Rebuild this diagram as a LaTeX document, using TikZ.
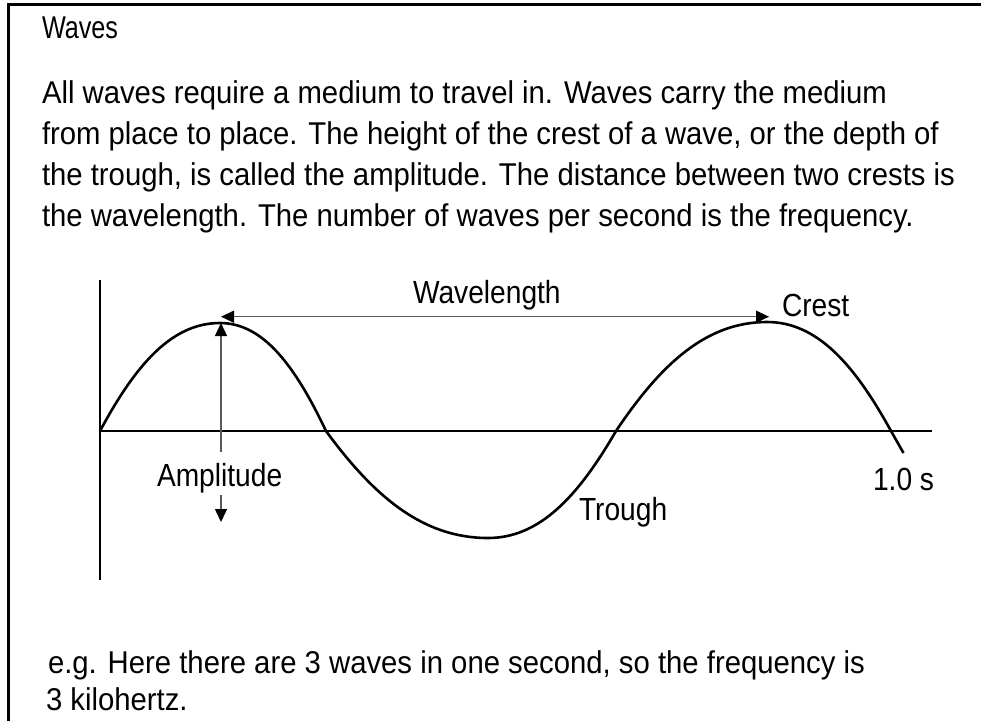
\documentclass[tikz,border=0pt]{standalone}
\usepackage{fontspec}
\setmainfont{Liberation Sans}
\newfontfamily\condfont[FakeStretch=0.88]{Liberation Sans}
\newfontfamily\bodyfont[FakeStretch=0.93]{Liberation Sans}
\newfontfamily\titlefont[FakeStretch=0.8]{Liberation Sans}
\usetikzlibrary{arrows.meta}
\tikzset{
  txt/.style={anchor=base west,inner sep=0pt,outer sep=0pt},
  body/.style={txt,font=\bodyfont\fontsize{31.5}{38}\selectfont},
  lab/.style={txt,font=\condfont\fontsize{32}{38}\selectfont},
  axis/.style={line width=2.6pt,black},
  wave/.style={line width=2.6pt,black,line join=round},
  guide/.style={line width=1.4pt,black!65},
  tip/.style={-{Triangle[length=13pt,width=12pt,black]}},
  tips/.style={{Triangle[length=13pt,width=12pt,black]}-{Triangle[length=13pt,width=12pt,black]}},
  frame/.style={line width=3pt,black}
}
\begin{document}
\begin{tikzpicture}[x=1pt,y=-1pt]
\useasboundingbox (0,0) rectangle (981,720);
% frame
\coordinate (fbl) at (8.5,722);
\coordinate (ftl) at (8.5,4.5);
\coordinate (ftr) at (983,4.5);
\draw[frame] (fbl) -- (ftl) -- (ftr);
% texts
\node[txt,font=\titlefont\fontsize{31.5}{36}\selectfont] (title) at (42,38.5) {Waves};
\node[body] (l1) at (42,103) {All waves require a medium to travel in. Waves carry the medium};
\node[body] (l2) at (42,144) {from place to place. The height of the crest of a wave, or the depth of};
\node[body] (l3) at (42,185.5) {the trough, is called the amplitude. The distance between two crests is};
\node[body] (l4) at (42,226) {the wavelength. The number of waves per second is the frequency.};
\node[body] (b1) at (48,673) {e.g. Here there are 3 waves in one second, so the frequency is};
\node[body] (b2) at (46,710) {3 kilohertz.};
% axes
\coordinate (o) at (100,431);
\coordinate (ytop) at (100,280);
\coordinate (ybot) at (100,580);
\coordinate (xend) at (932,431);
\draw[axis] (ytop) -- (ybot);
\draw[axis] (o) -- (xend);
% wave
\coordinate (c1) at (220,323);
\coordinate (z1) at (326,431);
\coordinate (tr) at (488,538);
\coordinate (z2) at (616,431);
\coordinate (c2) at (767,322);
\coordinate (z3) at (891,431);
\coordinate (wend) at (903.5,453);
\draw[wave] (o) .. controls (136,364) and (172,323) .. (c1)
  .. controls (262.4,323) and (294.2,364) .. (z1)
  .. controls (374.6,497.3) and (423.2,538) .. (tr)
  .. controls (539.2,538) and (577.6,497.3) .. (z2)
  .. controls (661.3,363.4) and (706.6,322) .. (c2)
  .. controls (816.6,322) and (853.8,363.4) .. (z3)
  -- (wend);
% labels
\node[lab] (wl) at (413,303) {Wavelength};
\node[lab] (crest) at (782,316.7) {Crest};
\node[lab] (amp) at (157,486) {Amplitude};
\node[lab] (trough) at (579,520) {Trough};
\node[lab] (sec) at (873,490.7) {1.0 s};
% arrows
\coordinate (wlL) at (221,316.7);
\coordinate (wlR) at (769,316.7);
\draw[guide,tips] (wlL) -- (wlR);
\coordinate (aTop) at (221,323);
\coordinate (aUp) at (221,452);
\coordinate (aDn) at (221,495);
\coordinate (aBot) at (221,522);
\draw[guide,tip] (aUp) -- (aTop);
\draw[guide,tip] (aDn) -- (aBot);
\end{tikzpicture}
\end{document}
